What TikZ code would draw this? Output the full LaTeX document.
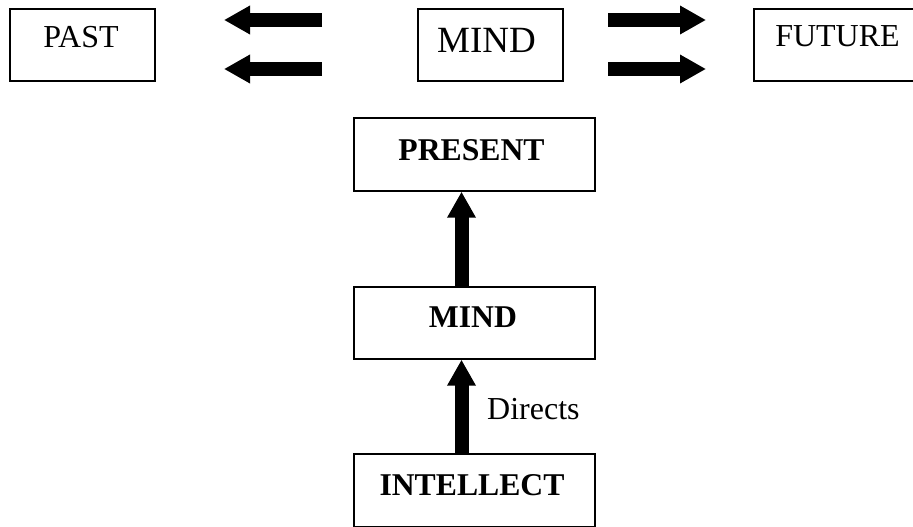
\documentclass[tikz,border=0pt]{standalone}
\usepackage{fontspec}
\setmainfont{Liberation Serif}
\usetikzlibrary{arrows.meta}
\begin{document}
\begin{tikzpicture}[x=1pt,y=-1pt,
  box/.style={draw, line width=1.7pt, inner sep=0pt, anchor=north west},
  txt/.style={inner sep=0pt, anchor=base, font=\fontsize{32}{38}\selectfont},
  bigtxt/.style={txt, font=\fontsize{37}{44}\selectfont},
  boldtxt/.style={txt, font=\fontsize{31.7}{38}\selectfont\bfseries},
  blockarrow/.style={line width=14pt, -{Triangle[width=27pt,length=26pt]}}]
\clip (0,0) rectangle (913,527);

% top row: past, mind, future
\node[box, minimum width=145pt, minimum height=72pt] (past) at (9,8) {};
\node[txt] (pastlbl) at (81,48) {PAST};
\node[box, minimum width=145pt, minimum height=72pt] (mind) at (417,8) {};
\node[bigtxt] (mindlbl) at (486.5,53) {MIND};
\node[box, minimum width=170pt, minimum height=72pt] (future) at (753,8) {};
\node[txt] (futurelbl) at (837.5,47) {FUTURE};

% arrow ends between the top-row boxes
\coordinate (l1s) at (322,20);  \coordinate (l1e) at (224,20);
\coordinate (l2s) at (322,69);  \coordinate (l2e) at (224,69);
\coordinate (r1s) at (608,20);  \coordinate (r1e) at (706,20);
\coordinate (r2s) at (608,69);  \coordinate (r2e) at (706,69);
\draw[blockarrow] (l1s) -- (l1e);
\draw[blockarrow] (l2s) -- (l2e);
\draw[blockarrow] (r1s) -- (r1e);
\draw[blockarrow] (r2s) -- (r2e);

% vertical chain
\node[box, minimum width=241pt, minimum height=73pt] (present) at (353,117) {};
\node[boldtxt] (presentlbl) at (471.5,160) {PRESENT};
\node[box, minimum width=241pt, minimum height=72pt] (mindb) at (353,286) {};
\node[boldtxt] (mindblbl) at (473,327) {MIND};
\node[box, minimum width=241pt, minimum height=73pt] (intellect) at (353,453) {};
\node[boldtxt] (intellectlbl) at (472,495) {INTELLECT};

\coordinate (axis) at (461.5,0);
\draw[blockarrow] (mindb.north -| axis) -- (present.south -| axis);
\draw[blockarrow] (intellect.north -| axis) -- (mindb.south -| axis);
\node[txt, anchor=base west] (directs) at (487,419) {Directs};
\end{tikzpicture}
\end{document}
